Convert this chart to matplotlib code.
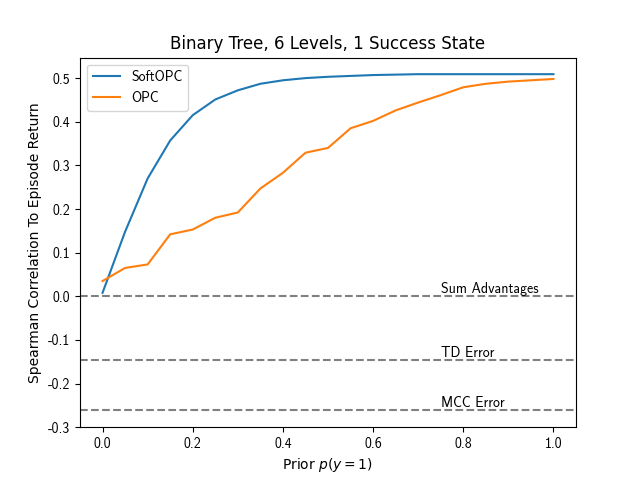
import matplotlib
matplotlib.use("Agg")
import matplotlib.pyplot as plt
from matplotlib import font_manager

plt.rcParams['axes.unicode_minus'] = False

priors = [0.0, 0.05, 0.1, 0.15, 0.2, 0.25, 0.3, 0.35, 0.4, 0.45, 0.5,
          0.55, 0.6, 0.65, 0.7, 0.75, 0.8, 0.85, 0.9, 0.95, 1.0]
soft_opc = [0.008, 0.148, 0.270, 0.357, 0.415, 0.451, 0.472, 0.487, 0.495, 0.500, 0.503,
            0.505, 0.507, 0.508, 0.509, 0.509, 0.509, 0.509, 0.509, 0.509, 0.509]
opc = [0.035, 0.065, 0.073, 0.142, 0.153, 0.180, 0.192, 0.247, 0.283, 0.329, 0.340,
       0.385, 0.402, 0.426, 0.444, 0.461, 0.479, 0.487, 0.492, 0.495, 0.498]

baseline_names = ["Sum Advantages", "TD Error", "MCC Error"]
baseline_values = [0.0, -0.147, -0.261]

cm = font_manager.FontProperties(family='cmss10', size=10)

fig, ax = plt.subplots(figsize=(6.4, 4.8), dpi=100)
ax.plot(priors, soft_opc, label="SoftOPC")
ax.plot(priors, opc, label="OPC")

for name, val in zip(baseline_names, baseline_values):
    ax.axhline(val, color='grey', linestyle='--', linewidth=1.5)
    ax.text(0.75, val + 0.008, name, fontproperties=cm)

ax.set_ylim(-0.3, 0.547)
ax.set_xlim(-0.05, 1.05)
ax.set_xlabel("Prior $p(y=1)$")
ax.set_ylabel("Spearman Correlation To Episode Return")
ax.set_title("Binary Tree, 6 Levels, 1 Success State")
ax.set_xticks([0.0, 0.2, 0.4, 0.6, 0.8, 1.0])
ax.set_yticks([-0.3, -0.2, -0.1, 0.0, 0.1, 0.2, 0.3, 0.4, 0.5])
for lab in ax.get_xticklabels() + ax.get_yticklabels():
    lab.set_fontproperties(cm)
ax.legend(prop=cm, loc='upper left')

fig.savefig("out.png")
